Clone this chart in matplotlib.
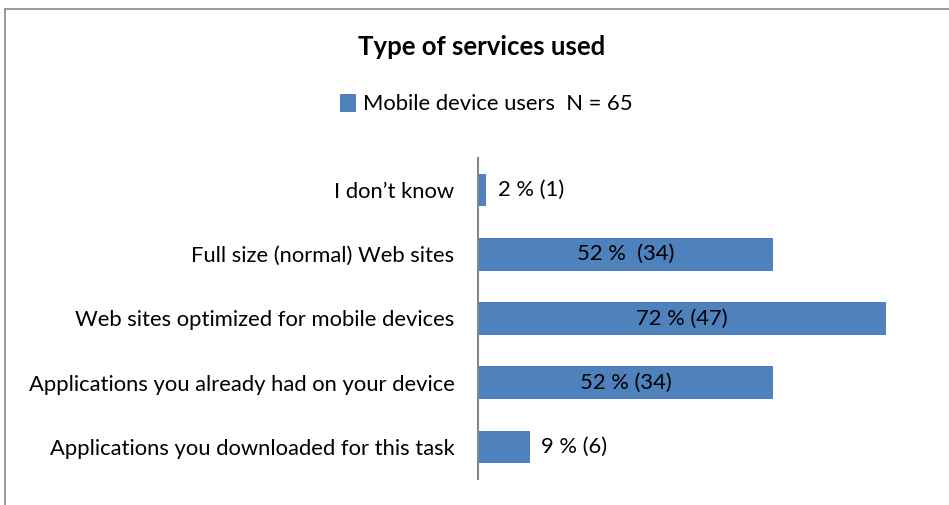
import matplotlib.pyplot as plt
from matplotlib.patches import Rectangle

plt.rcParams['font.family'] = ['Lato', 'DejaVu Sans']

# Data (bottom to top)
categories = ['Applications you downloaded for this task',
              'Applications you already had on your device',
              'Web sites optimized for mobile devices',
              'Full size (normal) Web sites',
              'I don\u2019t know']
percent = [9.2, 52.3, 72.3, 52.3, 1.5]
value_labels = ['9 % (6)', '52 % (34)', '72 % (47)', '52 %  (34)', '2 % (1)']
series_name = 'Mobile device users  N = 65'

bar_color = '#4F81BD'
fs = 15.8

fig = plt.figure(figsize=(9.49, 5.05), dpi=100)
ax = fig.add_axes([478 / 949, 1 - 479 / 505, 452 / 949, 321 / 505])

y = range(len(categories))
bars = ax.barh(y, percent, height=0.51, color=bar_color, label=series_name)

ax.set_xlim(0, 80)
ax.set_ylim(-0.5, len(categories) - 0.5)
ax.set_yticks(list(y))
ax.set_yticklabels(categories, fontsize=fs)
ax.tick_params(axis='y', length=0, pad=17)
ax.set_xticks([])
for s in ['top', 'right', 'bottom']:
    ax.spines[s].set_visible(False)
ax.spines['left'].set_color('#868686')
ax.spines['left'].set_linewidth(1.5)

# Value labels: centered in long bars, just right of short ones
for b, p, lab in zip(bars, percent, value_labels):
    yc = b.get_y() + b.get_height() / 2
    if p > 20:
        ax.text(p / 2, yc, lab, ha='center', va='center', fontsize=fs)
    else:
        ax.annotate(lab, (p, yc), xytext=(8, 0), textcoords='offset points',
                    ha='left', va='center', fontsize=fs)

fig.text(482 / 949, 1 - 47 / 505, 'Type of services used', ha='center', va='center',
         fontsize=18.5, fontweight='bold')

# Legend
fig.legend(handles=[bars], labels=[series_name], loc='center',
           bbox_to_anchor=(486 / 949, 1 - 104 / 505), frameon=False,
           fontsize=fs, handlelength=0.75, handleheight=0.9, handletextpad=0.3)

# Chart border
fig.patches.append(Rectangle((5 / 949, -0.1), 1.1, 1 - 9 / 505 + 0.1,
                             transform=fig.transFigure, fill=False,
                             edgecolor='#888888', linewidth=1.2))

fig.savefig('out.png', dpi=100)
